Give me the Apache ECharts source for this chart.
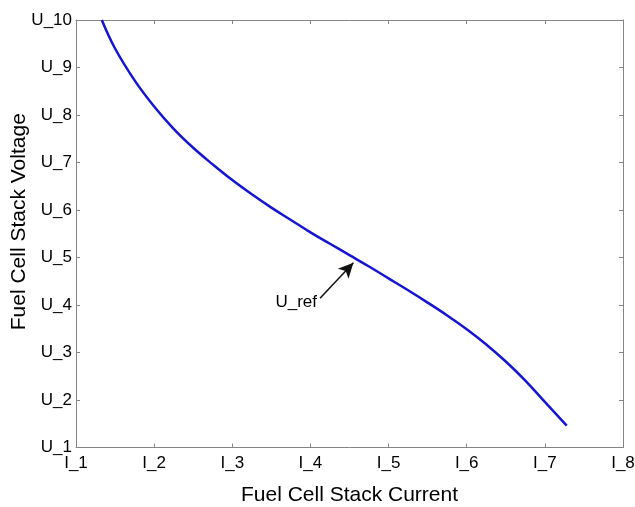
<!DOCTYPE html>
<html>
<head>
<meta charset="utf-8">
<script src="https://cdn.jsdelivr.net/npm/echarts@6/dist/echarts.min.js"></script>
<style>html,body{margin:0;padding:0;background:#fff}#c{width:635px;height:507px}</style>
</head>
<body>
<div id="c"></div>
<script>
var currentI = [1.33, 1.5, 1.75, 2.0, 2.25, 2.5, 2.75, 3.0, 3.25, 3.5, 3.75, 4.0, 4.25, 4.5, 4.75, 5.0, 5.25, 5.5, 5.75, 6.0, 6.25, 6.5, 6.75, 7.0, 7.28];
var voltageU = [10.0, 9.40, 8.73, 8.18, 7.71, 7.31, 6.96, 6.63, 6.33, 6.05, 5.79, 5.53, 5.29, 5.05, 4.81, 4.56, 4.31, 4.05, 3.78, 3.49, 3.17, 2.81, 2.41, 1.96, 1.46];
var xTickLabels = ['I_1','I_2','I_3','I_4','I_5','I_6','I_7','I_8'];
var yTickLabels = ['U_1','U_2','U_3','U_4','U_5','U_6','U_7','U_8','U_9','U_10'];
var arrowTail = [4.123, 4.14];
var arrowTip = [4.55, 4.89];
var annotationText = 'U_ref';

var curve = currentI.map(function(v, i){ return [v, voltageU[i]]; });
var font = 'Liberation Sans, Arial, sans-serif';
var axisColor = '#858585';

function xAxisBase(pos, showLabels) {
  return {
    type: 'value', position: pos, min: 1, max: 8, interval: 1,
    axisLine: {show: true, onZero: false, lineStyle: {color: axisColor, width: 1}},
    axisTick: {show: true, inside: true, length: 4, lineStyle: {color: axisColor}},
    splitLine: {show: false},
    axisLabel: {show: showLabels, color: '#000', fontFamily: font, fontSize: 17, margin: 7,
      formatter: function(v){ return xTickLabels[Math.round(v) - 1]; }}
  };
}
function yAxisBase(pos, showLabels) {
  return {
    type: 'value', position: pos, min: 1, max: 10, interval: 1,
    axisLine: {show: true, onZero: false, lineStyle: {color: axisColor, width: 1}},
    axisTick: {show: true, inside: true, length: 4, lineStyle: {color: axisColor}},
    splitLine: {show: false},
    axisLabel: {show: showLabels, color: '#000', fontFamily: font, fontSize: 17, margin: 4,
      formatter: function(v){ return yTickLabels[Math.round(v) - 1]; }}
  };
}

var x0 = xAxisBase('bottom', true);
x0.name = 'Fuel Cell Stack Current';
x0.nameLocation = 'middle';
x0.nameGap = 37;
x0.nameMoveOverlap = false;
x0.nameTextStyle = {color: '#000', fontFamily: font, fontSize: 21};
var x1 = xAxisBase('top', false);
var y0 = yAxisBase('left', true);
y0.name = 'Fuel Cell Stack Voltage';
y0.nameLocation = 'middle';
y0.nameGap = 46;
y0.nameMoveOverlap = false;
y0.nameTextStyle = {color: '#000', fontFamily: font, fontSize: 21, padding: [0, 0, 0, 24]};
var y1 = yAxisBase('right', false);

var chart = echarts.init(document.getElementById('c'), null, {renderer: 'canvas'});
chart.setOption({
  animation: false,
  backgroundColor: '#fff',
  grid: {left: 76, right: 12, top: 20, bottom: 59.5, containLabel: false, outerBoundsMode: 'none'},
  xAxis: [x0, x1],
  yAxis: [y0, y1],
  series: [
    {
      type: 'line', xAxisIndex: 0, yAxisIndex: 0, data: curve, smooth: 0.4,
      showSymbol: false, symbol: 'none',
      lineStyle: {color: '#1414d2', width: 2.5},
      markLine: {
        silent: true, symbol: ['none', 'arrow'], symbolSize: [11, 15],
        lineStyle: {color: '#111', width: 1.5, type: 'solid'},
        label: {show: false},
        data: [[{coord: arrowTail}, {coord: arrowTip}]]
      }
    },
    {
      type: 'scatter', xAxisIndex: 0, yAxisIndex: 0, symbolSize: 0, silent: true,
      data: [arrowTail],
      label: {show: true, position: 'left', distance: 3, offset: [0, 4], formatter: annotationText,
        color: '#000', opacity: 1, fontFamily: font, fontSize: 17, textBorderWidth: 0}
    }
  ]
});
</script>
</body>
</html>
